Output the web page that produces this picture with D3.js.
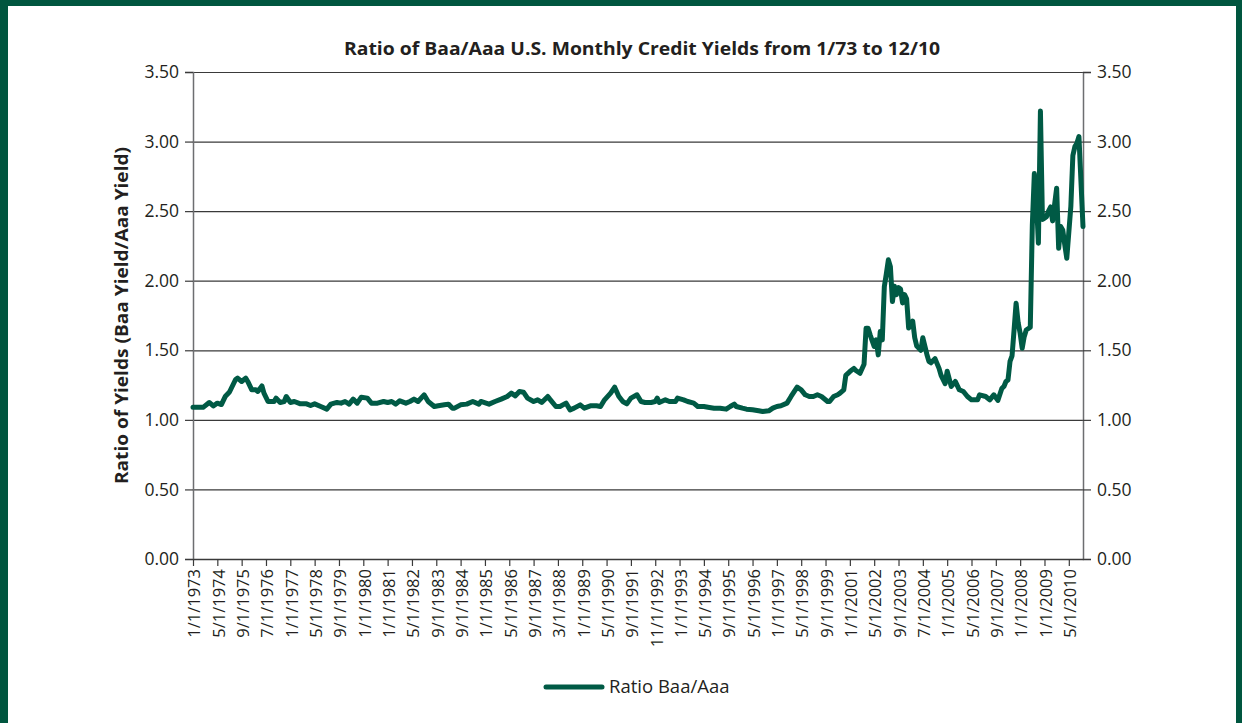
<!DOCTYPE html>
<html lang="en">
<head>
<meta charset="UTF-8">
<title>Ratio of Baa/Aaa</title>
<script src="https://cdn.jsdelivr.net/npm/d3@7"></script>
<style>
  body{margin:0;background:#fff}
  svg text{font-family:"Open Sans","Noto Sans",sans-serif;fill:#231f20}
</style>
</head>
<body>
<svg id="chart" width="1242" height="723"></svg>
<script>
var obs = [0,5,8,10,12,14,16,18,21,22,24,26,27,29,31,32,34,35,37,40,41,43,45,46,48,50,53,56,58,60,63,66,68,71,73,75,77,79,81,83,86,88,91,94,96,98,100,102,105,107,109,111,114,116,119,121,124,126,128,129,132,135,138,141,142,146,149,152,155,157,159,161,163,165,168,170,172,175,176,179,181,184,186,188,191,193,196,199,201,203,206,208,210,212,214,216,219,221,223,226,228,229,230,233,235,238,239,242,244,247,249,252,254,257,260,263,265,267,268,271,273,276,279,281,284,286,288,290,293,295,298,300,302,304,306,308,310,313,314,316,318,319,321,322,324,326,327,329,331,332,333,334,336,337,338,339,340,341,342,343,344,345,346,347,348,349,350,351,352,353,355,356,357,359,360,362,363,364,366,368,369,371,372,374,376,378,380,382,384,387,388,391,393,395,397,399,400,401,402,403,404,405,406,407,408,409,410,411,413,414,415,416,417,418,419,420,421,422,423,424,425,426,427,428,429,430,431,433,434,435,436,437,439]
var ratio = [1.09,1.09,1.125,1.10,1.12,1.11,1.17,1.20,1.29,1.30,1.276,1.30,1.276,1.216,1.216,1.204,1.244,1.192,1.132,1.132,1.156,1.125,1.132,1.168,1.125,1.132,1.115,1.115,1.103,1.115,1.096,1.077,1.113,1.125,1.12,1.132,1.113,1.149,1.12,1.163,1.156,1.12,1.12,1.132,1.125,1.132,1.113,1.137,1.12,1.132,1.149,1.132,1.18,1.132,1.096,1.101,1.108,1.113,1.084,1.084,1.108,1.113,1.132,1.113,1.132,1.113,1.132,1.149,1.168,1.192,1.172,1.204,1.199,1.156,1.132,1.144,1.125,1.168,1.149,1.096,1.096,1.12,1.072,1.084,1.108,1.084,1.101,1.101,1.096,1.144,1.192,1.235,1.17,1.132,1.115,1.156,1.18,1.132,1.125,1.125,1.132,1.156,1.125,1.144,1.132,1.132,1.156,1.144,1.132,1.12,1.096,1.096,1.091,1.084,1.084,1.077,1.096,1.113,1.096,1.084,1.077,1.072,1.065,1.06,1.065,1.084,1.096,1.101,1.12,1.168,1.235,1.216,1.18,1.168,1.168,1.18,1.168,1.132,1.132,1.168,1.18,1.19,1.216,1.32,1.347,1.37,1.355,1.335,1.40,1.659,1.659,1.611,1.527,1.575,1.467,1.635,1.575,1.958,2.05,2.15,2.10,1.85,1.96,1.90,1.95,1.94,1.84,1.90,1.87,1.66,1.71,1.59,1.53,1.50,1.59,1.47,1.42,1.41,1.44,1.37,1.32,1.26,1.35,1.24,1.276,1.216,1.204,1.168,1.144,1.144,1.18,1.168,1.144,1.18,1.14,1.227,1.24,1.276,1.287,1.42,1.46,1.646,1.838,1.70,1.622,1.515,1.598,1.646,1.666,2.40,2.77,2.58,2.27,3.22,2.44,2.45,2.46,2.50,2.53,2.43,2.55,2.665,2.233,2.389,2.365,2.26,2.161,2.533,2.90,2.964,2.988,3.036,2.389]
var tickLabels = ['1/1/1973','5/1/1974','9/1/1975','7/1/1976','1/1/1977','5/1/1978','9/1/1979','1/1/1980','1/1/1981','5/1/1982','9/1/1983','9/1/1984','1/1/1985','5/1/1986','9/1/1987','3/1/1988','1/1/1989','5/1/1990','9/1/1991','11/1/1992','1/1/1993','5/1/1994','9/1/1995','5/1/1996','1/1/1997','5/1/1998','9/1/1999','1/1/2001','5/1/2002','9/1/2003','7/1/2004','1/1/2005','5/1/2006','9/1/2007','1/1/2008','1/1/2009','5/1/2010']
var yTicks = [0,0.5,1,1.5,2,2.5,3,3.5]
var nObs = 440, tickEvery = 12

var green = '#005a45'
var margin = {left:193, right:159, top:72, bottom:164}
var W = 1242, H = 723
var svg = d3.select('#chart')

// frame
svg.append('rect').attr('x',0).attr('y',0).attr('width',W).attr('height',6).attr('fill','#00563f')
svg.append('rect').attr('x',0).attr('y',0).attr('width',8).attr('height',H).attr('fill','#00563f')
svg.append('rect').attr('x',1236).attr('y',0).attr('width',6).attr('height',H).attr('fill','#00563f')

var x = d3.scaleLinear().domain([0,nObs-1]).range([margin.left,W-margin.right])
var y = d3.scaleLinear().domain([0,3.5]).range([H-margin.bottom,margin.top])

// grid
svg.append('g').selectAll('line').data(yTicks).join('line')
  .attr('x1',x(0)).attr('x2',x(nObs-1)).attr('y1',d=>y(d)+0.5).attr('y2',d=>y(d)+0.5)
  .attr('stroke','#3a3a3a').attr('stroke-width',1.2)

var fmt = d3.format('.2f')
var yl = svg.append('g').attr('transform',`translate(${x(0)},0)`)
  .call(d3.axisLeft(y).tickValues(yTicks).tickFormat(fmt).tickSize(8).tickPadding(6))
var yr = svg.append('g').attr('transform',`translate(${x(nObs-1)},0)`)
  .call(d3.axisRight(y).tickValues(yTicks).tickFormat(fmt).tickSize(8).tickPadding(6))
;[yl,yr].forEach(g=>{
  g.select('.domain').attr('stroke','#6d6e71').attr('stroke-width',1.5)
  g.selectAll('.tick line').attr('stroke','#3a3a3a').attr('stroke-width',1.2)
  g.selectAll('text').attr('font-size',17.5).style('fill','#231f20')
})

// x axis: category ticks every 12 observations
var xt = d3.range(tickLabels.length).map(k=>k*tickEvery)
var xa = svg.append('g').attr('transform',`translate(0,${y(0)})`)
  .call(d3.axisBottom(x).tickValues(xt).tickFormat((d,k)=>tickLabels[k]).tickSize(7).tickSizeOuter(0))
xa.select('.domain').attr('stroke','#3a3a3a').attr('stroke-width',1.5)
xa.selectAll('.tick line').attr('stroke','#3a3a3a').attr('stroke-width',1.2)
xa.selectAll('text').attr('font-size',16.5).style('fill','#231f20')
  .attr('text-anchor','end').attr('dx',0).attr('dy','0.35em').attr('x',0).attr('y',0)
  .attr('transform','translate(1,10) rotate(-90)')

// series
var data = obs.map((o,k)=>({o:o,v:ratio[k]}))
var line = d3.line().x(d=>x(d.o)).y(d=>y(d.v))
svg.append('path').datum(data).attr('d',line).attr('fill','none')
  .attr('stroke',green).attr('stroke-width',5).attr('stroke-linejoin','round').attr('stroke-linecap','round')

// title & axis title
svg.append('text').attr('x',642).attr('y',55).attr('text-anchor','middle')
  .attr('font-size',18.5).attr('font-weight','bold').attr('textLength',596).attr('lengthAdjust','spacingAndGlyphs')
  .text('Ratio of Baa/Aaa U.S. Monthly Credit Yields from 1/73 to 12/10')
svg.append('text').attr('transform',`translate(128,${(y(0)+y(3.5))/2}) rotate(-90)`).attr('text-anchor','middle')
  .attr('font-size',18).attr('font-weight','bold').attr('textLength',337).attr('lengthAdjust','spacingAndGlyphs')
  .text('Ratio of Yields (Baa Yield/Aaa Yield)')

// legend
var lg = svg.append('g').attr('transform','translate(546,687)')
lg.append('line').attr('x1',0).attr('x2',56).attr('stroke',green).attr('stroke-width',5).attr('stroke-linecap','round')
lg.append('text').attr('x',63).attr('dy','0.35em').attr('font-size',18.5).text('Ratio Baa/Aaa')
</script>
</body>
</html>
